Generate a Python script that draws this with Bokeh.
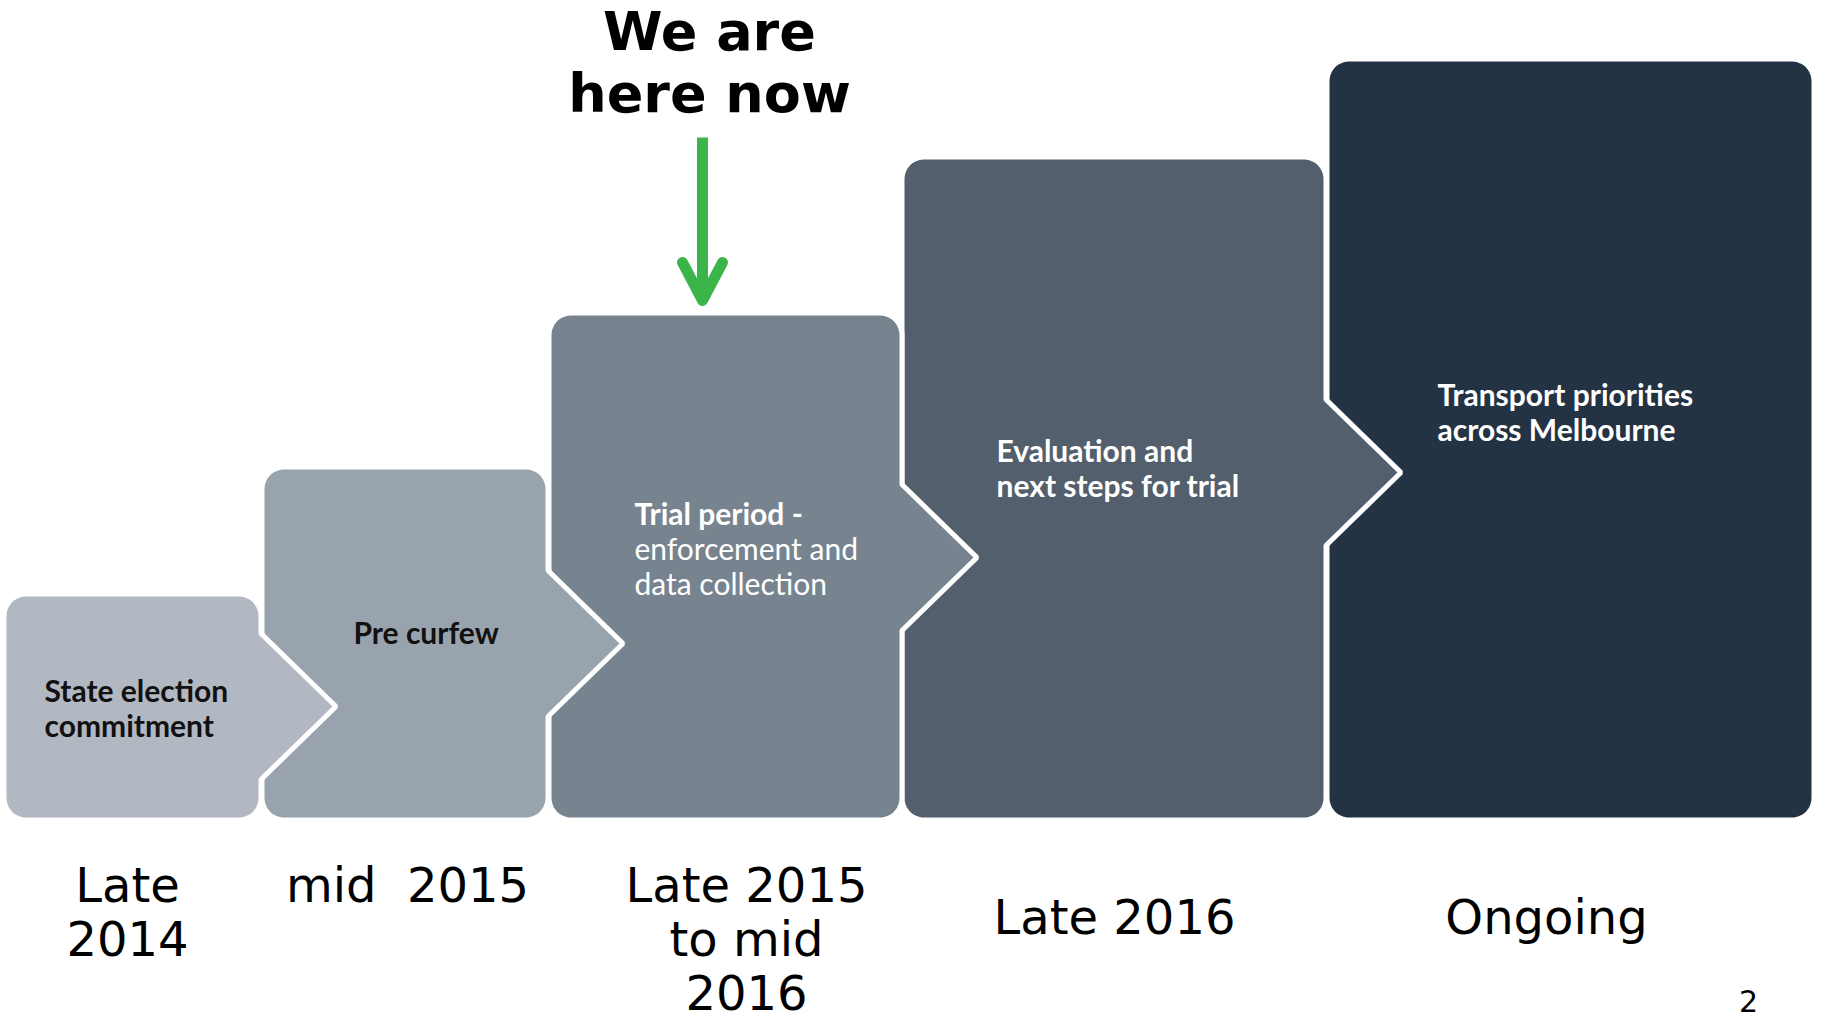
import math
from bokeh.plotting import figure
from bokeh.models import Range1d, ColumnDataSource
from bokeh.core.properties import value
from bokeh.embed import file_html
from bokeh.resources import INLINE

# ---------------- data ----------------
stage_lines = [
    ["State election", "commitment"],
    ["Pre curfew"],
    ["Trial period -", "enforcement and", "data collection"],
    ["Evaluation and", "next steps for trial"],
    ["Transport priorities", "across Melbourne"],
]
period_lines = [
    ["Late", "2014"],
    ["mid\u00a0 2015"],
    ["Late 2015", "to mid", "2016"],
    ["Late 2016"],
    ["Ongoing"],
]
step_heights = [221, 348, 502, 658, 756]
headline = ["We are", "here now"]
current_stage = 2
page_number = "2"

# ---------------- layout / style ----------------
W, H = 1822, 1024
base_y = 817
box_left = [6, 264, 551, 904, 1329]
box_right = [258, 545, 899, 1323, 1811]
arrow_cy = [706, 643, 557, 472]
arrow_half, arrow_depth = 73, 75
radius = 22
gap_stroke = 5
pad = gap_stroke / 2
box_colors = ["#b1b8c1", "#99a3ad", "#77848f", "#535f6c", "#243344"]
text_colors = ["#111111", "#111111", "#ffffff", "#ffffff", "#ffffff"]

# rendered baseline sits ~0.42 em below the anchor; anchors are compensated
def anchor(baseline, size):
    return baseline - 0.42 * size

label_size = 30
label_x = [44, 353, 634, 996, 1437]
label_base = [702, 644, 525, 462, 406]
label_dy = 35

period_size = 48
period_x = [127, 407, 746, 1114, 1546]
period_base = [905, 905, 905, 937, 937]
period_dy = 53.5

head_size = 54
head_base = [54, 116]

p = figure(width=W, height=H, x_range=Range1d(0, W), y_range=Range1d(H, 0),
           output_backend="svg", toolbar_location=None, min_border=0)
p.axis.visible = False
p.grid.visible = False
p.outline_line_color = None
p.background_fill_color = "white"
p.border_fill_color = "white"


def box_shape(x0, x1, top, bottom, r, arrow=None):
    x0, x1, top, bottom = x0 - pad, x1 + pad, top - pad, bottom + pad
    pts = []

    def arc(cx, cy, a0, a1, n=10):
        for k in range(n + 1):
            a = math.radians(a0 + (a1 - a0) * k / n)
            pts.append((cx + r * math.cos(a), cy + r * math.sin(a)))

    arc(x0 + r, top + r, 180, 270)
    arc(x1 - r, top + r, 270, 360)
    if arrow is not None:
        cy = arrow
        pts.extend([(x1, cy - arrow_half), (x1 + arrow_depth, cy), (x1, cy + arrow_half)])
    arc(x1 - r, bottom - r, 0, 90)
    arc(x0 + r, bottom - r, 90, 180)
    return [q[0] for q in pts], [q[1] for q in pts]


xs, ys, cols = [], [], []
n = len(step_heights)
for i in reversed(range(n)):
    top = base_y - step_heights[i]
    arr = arrow_cy[i] if i < n - 1 else None
    bx, by = box_shape(box_left[i], box_right[i], top, base_y, radius, arr)
    xs.append(bx)
    ys.append(by)
    cols.append(box_colors[i])

p.patches(xs="xs", ys="ys", fill_color="cols", line_color="white", line_width=gap_stroke,
          source=ColumnDataSource(dict(xs=xs, ys=ys, cols=cols)))

# stage labels
bold = dict(x=[], y=[], text=[], color=[])
light = dict(x=[], y=[], text=[], color=[])
for i, lines in enumerate(stage_lines):
    for j, t in enumerate(lines):
        d = light if (i == current_stage and j > 0) else bold
        d["x"].append(label_x[i])
        d["y"].append(anchor(label_base[i] + j * label_dy, label_size))
        d["text"].append(t)
        d["color"].append(text_colors[i])

p.text(x="x", y="y", text="text", text_color="color", source=ColumnDataSource(bold),
       text_font=value("Lato"), text_font_style="bold", text_font_size=f"{label_size}px",
       text_align="left", text_baseline="alphabetic")
p.text(x="x", y="y", text="text", text_color="color", source=ColumnDataSource(light),
       text_font=value("Lato"), text_font_style="normal", text_font_size=f"{label_size}px",
       text_align="left", text_baseline="alphabetic")

# period labels
per = dict(x=[], y=[], text=[])
for i, lines in enumerate(period_lines):
    for j, t in enumerate(lines):
        per["x"].append(period_x[i])
        per["y"].append(anchor(period_base[i] + j * period_dy, period_size))
        per["text"].append(t)
p.text(x="x", y="y", text="text", source=ColumnDataSource(per),
       text_font=value("DejaVu Sans"), text_font_size=f"{period_size}px", text_color="#000000",
       text_align="center", text_baseline="alphabetic")

# headline and marker arrow
hx = 709
p.text(x=[hx, hx], y=[anchor(b, head_size) for b in head_base], text=headline,
       text_font=value("DejaVu Sans"), text_font_style="bold", text_font_size=f"{head_size}px",
       text_color="#000000", text_align="center", text_baseline="alphabetic")

ax = 702
green = "#3bb54a"
p.line(x=[ax, ax], y=[137, 297], line_color=green, line_width=11)
p.line(x=[ax - 20, ax, ax + 20], y=[262, 300, 262], line_color=green, line_width=11,
       line_cap="round", line_join="round")

# page number
p.text(x=[1748], y=[anchor(1013, 30)], text=[page_number], text_font=value("DejaVu Sans"),
       text_font_size="30px", text_color="#000000", text_align="center",
       text_baseline="alphabetic")

open("out.html", "w").write(file_html(p, INLINE))
